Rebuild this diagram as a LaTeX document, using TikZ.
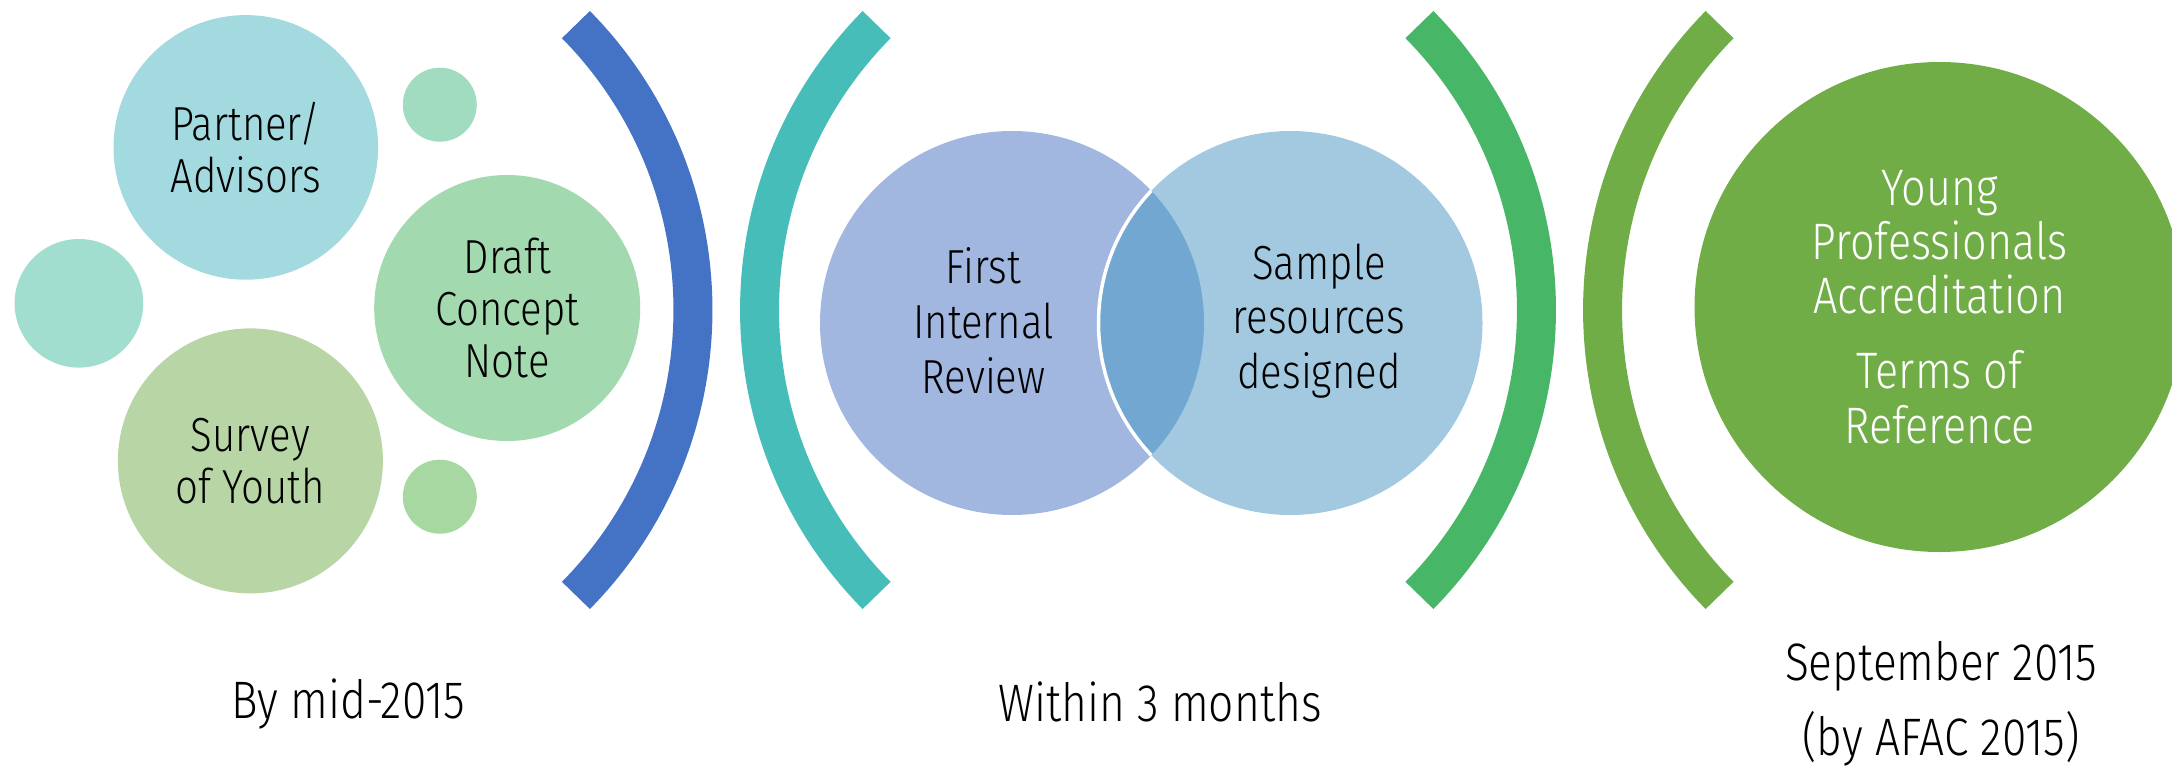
\documentclass[tikz,border=0pt]{standalone}
\usepackage{fontspec}
\IfFontExistsTF{Fira Sans Light}
  {\setmainfont{Fira Sans Light}[FakeStretch=0.84]}
  {\IfFontExistsTF{FiraSans-Light.otf}
    {\setmainfont{FiraSans-Light.otf}[FakeStretch=0.84]}
    {\IfFontExistsTF{Lato Light}
      {\setmainfont{Lato Light}[FakeStretch=0.88]}
      {\setmainfont{Fira Sans}[FakeStretch=0.84]}}}
\usepackage{xcolor}

\definecolor{dotleft}{HTML}{A1DECF}
\definecolor{partnerc}{HTML}{A2DADF}
\definecolor{dottop}{HTML}{A2DCC0}
\definecolor{draftc}{HTML}{A3D9AE}
\definecolor{dotbot}{HTML}{A7D8A2}
\definecolor{surveyc}{HTML}{B7D5A5}
\definecolor{arcblue}{HTML}{4472C4}
\definecolor{arcteal}{HTML}{46BDB8}
\definecolor{arcgreen}{HTML}{48B667}
\definecolor{arcolive}{HTML}{70AD47}
\definecolor{firstc}{HTML}{A1B7E0}
\definecolor{samplec}{HTML}{A2C9E0}
\definecolor{overlapc}{HTML}{72A7D1}

\begin{document}
\begin{tikzpicture}[x=0.1mm, y=-0.1mm,
    bubble/.style={circle, inner sep=0pt, align=center,
                   font=\fontsize{13.6}{14.8}\selectfont},
    bracket/.style={line width=3.9mm},
    caption/.style={align=center, font=\fontsize{15}{21.3}\selectfont}]
\useasboundingbox (0,0) rectangle (2172,767);

    % Left cluster of bubbles
    \node[bubble, fill=dotleft, minimum size=12.86mm] (dotl) at (78.9,303.3) {};
    \node[bubble, fill=partnerc, minimum size=26.46mm] (partner) at (245.8,147.4) {Partner/\\Advisors};
    \node[bubble, fill=dottop, minimum size=7.4mm] (dott) at (439.8,104.7) {};
    \node[bubble, fill=draftc, minimum size=26.6mm] (draft) at (507.2,308) {Draft\\Concept\\Note};
    \node[bubble, fill=surveyc, minimum size=26.5mm] (survey) at (250.4,460.9) {Survey\\of Youth};
    \node[bubble, fill=dotbot, minimum size=7.4mm] (dotb) at (439.8,496.7) {};

    % Brackets
    \draw[bracket, arcblue] ([shift={(44.6:40.65mm)}]286.5,310) arc[start angle=44.6, end angle=-44.6, radius=40.65mm];
    \draw[bracket, arcteal] ([shift={(135.4:40.65mm)}]1166,310) arc[start angle=135.4, end angle=224.6, radius=40.65mm];
    \draw[bracket, arcgreen] ([shift={(44.6:40.65mm)}]1130,310) arc[start angle=44.6, end angle=-44.6, radius=40.65mm];
    \draw[bracket, arcolive] ([shift={(135.4:40.65mm)}]2009,310) arc[start angle=135.4, end angle=224.6, radius=40.65mm];

    % Venn pair
    \node[bubble, fill=firstc, minimum size=38.4mm] (first) at (1012,323) {};
    \node[bubble, fill=samplec, minimum size=38.4mm] (sample) at (1290.5,323) {};
    \begin{scope}
        \clip (first.center) circle[radius=19.2mm];
        \fill[overlapc, draw=white, line width=0.35mm] (sample.center) circle[radius=19.2mm];
    \end{scope}
    \node[bubble, font=\fontsize{13.6}{15.6}\selectfont] (firsttext) at (983.5,321) {First\\Internal\\Review};
    \node[bubble, font=\fontsize{13.6}{15.6}\selectfont] (sampletext) at (1319,321) {Sample\\resources\\designed};

    % Final bubble
    \node[bubble, fill=arcolive, minimum size=49mm, text=white,
          font=\fontsize{14.6}{15.4}\selectfont] (young) at (1939.5,307)
          {Young\\Professionals\\Accreditation\\[6pt]Terms of\\Reference};

    % Time labels
    \node[caption] (bymid) at (348,704) {By mid-2015};
    \node[caption] (within) at (1160,702) {Within 3 months};
    \node[caption] (sept) at (1941,704) {September 2015\\(by AFAC 2015)};

\end{tikzpicture}
\end{document}
